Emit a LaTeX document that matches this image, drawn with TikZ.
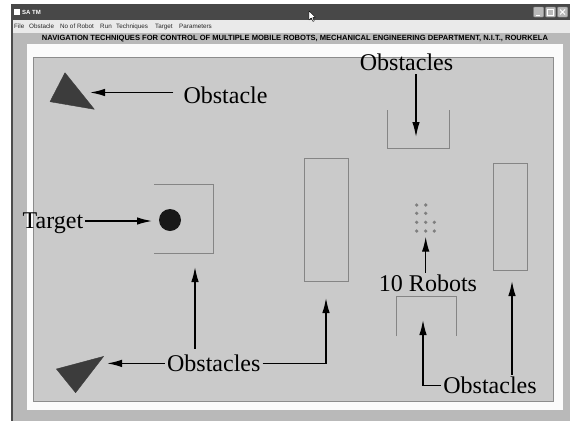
\documentclass[tikz,border=0pt]{standalone}
\usepackage{fontspec}
\setmainfont{Liberation Serif}
\newfontfamily\uifont{Liberation Sans}
\usetikzlibrary{arrows.meta}
\definecolor{frame}{HTML}{B9B9B9}
\definecolor{canvas}{HTML}{CACACA}
\definecolor{canvasborder}{HTML}{8C8C8C}
\definecolor{titlebar}{HTML}{484848}
\definecolor{menubar}{HTML}{EAEAEA}
\definecolor{obst}{HTML}{3C3C3C}
\definecolor{wall}{HTML}{858585}
\definecolor{robot}{HTML}{7E7E7E}
\tikzset{
  lbl/.style={font=\fontsize{24}{26}\selectfont, inner sep=2pt, anchor=base, text=black},
  arr/.style={line width=1.4pt, -{Latex[length=15pt,width=7.5pt]}},
  wallline/.style={draw=wall, line width=1pt},
  obstri/.style={fill=obst, draw=obst, line join=round},
  menuitem/.style={font=\uifont\fontsize{6.3}{7}\selectfont, anchor=west, inner sep=0pt, text=black!85},
  winbtn/.style={fill=gray!55, draw=gray!80, rounded corners=1pt},
  robotdot/.style={fill=robot, draw=none}
}
\begin{document}
\begin{tikzpicture}[x=1pt,y=-1pt]
\useasboundingbox (0,0) rectangle (570,421);
% window chrome
\fill[white] (0,0) rectangle (570,421);
\fill[frame] (11,4) rectangle (570,421);
\fill[black!70] (11,4) rectangle (13,421);
\fill[titlebar] (11,4) rectangle (570,20);
\fill[menubar] (13,20) rectangle (570,33);
\fill[white] (14,9) rectangle (20,15);
\node[font=\uifont\bfseries\fontsize{6}{7}\selectfont, text=white, anchor=west, inner sep=0pt] (title) at (22,12) {SA TM};
\node[winbtn, minimum width=10pt, minimum height=10pt, inner sep=0pt] (bmin) at (538.5,12) {};
\node[winbtn, minimum width=10pt, minimum height=10pt, inner sep=0pt] (bmax) at (550.5,12) {};
\node[winbtn, minimum width=10pt, minimum height=10pt, inner sep=0pt] (bclose) at (562.5,12) {};
\draw[white, line width=1pt] (535.5,15) -- (539.5,15);
\draw[white, line width=0.8pt] (547.5,9) rectangle (553.5,15);
\draw[white, line width=1pt] (560,9.5) -- (565,14.5) (565,9.5) -- (560,14.5);
% mouse cursor
\draw[fill=white, draw=black, line width=0.4pt, line join=round] (309,11) -- (309,20) -- (311.3,18) -- (313,21.5) -- (314.3,20.8) -- (312.7,17.5) -- (315.5,17.3) -- cycle;
% menu
\node[menuitem] (mFile) at (14,26.5) {File};
\node[menuitem] (mObst) at (29,26.5) {Obstacle};
\node[menuitem] (mRobot) at (60,26.5) {No of Robot};
\node[menuitem] (mRun) at (100,26.5) {Run};
\node[menuitem] (mTech) at (116,26.5) {Techniques};
\node[menuitem] (mTarget) at (155,26.5) {Target};
\node[menuitem] (mParam) at (179,26.5) {Parameters};
% banner
\node[inner sep=0pt] (banner) at (295,39) {\resizebox{506pt}{!}{\uifont\bfseries\fontsize{7}{8}\selectfont NAVIGATION TECHNIQUES FOR CONTROL OF MULTIPLE MOBILE ROBOTS, MECHANICAL ENGINEERING DEPARTMENT, N.I.T., ROURKELA}};
% panel and canvas
\fill[white!97!gray] (27,44) rectangle (563,410);
\draw[fill=canvas, draw=canvasborder, line width=1pt] (33,57) rectangle (553,401);
% obstacles
\fill[obstri] (65,72.7) -- (50,101.7) -- (94.3,109.3) -- cycle;
\fill[obstri] (56.4,369) -- (103.6,356.4) -- (75.6,392.7) -- cycle;
\draw[wallline] (154,184) -- (213,184) -- (213,253) -- (154,253);
\draw[wallline] (304,158) rectangle (348,281);
\draw[wallline] (493,163) rectangle (527,270);
\draw[wallline] (387,110) -- (387,148) -- (449,148) -- (449,110);
\draw[wallline] (396,336) -- (396,296) -- (456,296) -- (456,336);
% target
\fill[black!90] (170,220) circle (11);
% robots
\foreach \x/\y in {416.7/205, 425.7/205, 416.7/213.3, 425.7/213.3, 416.7/222.3, 425.7/222.3, 434.3/222.3, 416.7/231, 425.7/231, 434.3/231}
  \fill[robotdot] (\x,\y) circle (1.8);
% labels
\node[lbl] (oTri) at (225.5,103) {Obstacle};
\node[lbl] (oTop) at (406.5,70) {Obstacles};
\node[lbl] (tgt) at (53,228) {Target};
\node[lbl] (oLeft) at (213.8,371.6) {Obstacles};
\node[lbl] (rob) at (428,291.7) {10 Robots};
\node[lbl] (oRight) at (490,393.8) {Obstacles};
% arrow targets
\coordinate (aTri) at (90,92.5);
\coordinate (aTop) at (416,137);
\coordinate (aTgt) at (152,221);
\coordinate (aBox) at (195,267);
\coordinate (aTri2) at (107,363.6);
\coordinate (aMid) at (326,298);
\coordinate (aRob) at (425.7,236.7);
\coordinate (aBot) at (423,320);
\coordinate (aRight) at (512,281);
% connectors
\draw[arr] ([xshift=-8pt]oTri.west |- aTri) -- (aTri);
\draw[arr] ([yshift=-2pt]oTop.south -| aTop) -- (aTop);
\draw[arr] (tgt.east |- aTgt) -- (aTgt);
\draw[arr] ([yshift=4pt]oLeft.north -| aBox) -- (aBox);
\draw[arr] (oLeft.west) -- (oLeft.west -| aTri2);
\draw[arr] (oLeft.east) -| (aMid);
\draw[arr] (rob.north -| aRob) -- (aRob);
\draw[arr] (oRight.west) -| (aBot);
\draw[arr] (oRight.north -| aRight) -- (aRight);
\end{tikzpicture}
\end{document}
